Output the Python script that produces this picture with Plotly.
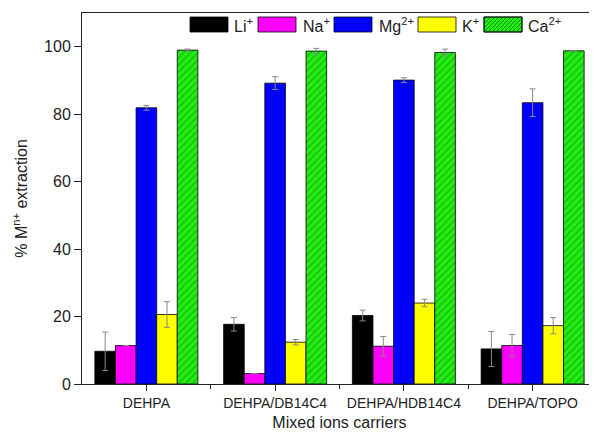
import plotly.graph_objects as go

carriers = ["DEHPA", "DEHPA/DB14C4", "DEHPA/HDB14C4", "DEHPA/TOPO"]
ions = ["Li<sup>+</sup>", "Na<sup>+</sup>", "Mg<sup>2+</sup>", "K<sup>+</sup>", "Ca<sup>2+</sup>"]

li = [9.7, 17.7, 20.3, 10.4]
li_err = [5.7, 2.0, 1.6, 5.2]
na = [11.4, 3.1, 11.2, 11.4]
na_err = [0.0, 0.0, 2.9, 3.3]
mg = [81.9, 89.2, 90.1, 83.4]
mg_err = [0.7, 1.9, 0.7, 4.1]
k = [20.6, 12.4, 24.0, 17.3]
k_err = [3.8, 0.8, 1.1, 2.4]
ca = [99.0, 98.7, 98.3, 98.8]
ca_err = [0.3, 0.8, 1.0, 0.0]

series = [li, na, mg, k, ca]
errors = [li_err, na_err, mg_err, k_err, ca_err]
colors = ["#000000", "#FF00FF", "#0000FF", "#FFFF00", "#22EE11"]
hatch_color = "#118811"

xpos = list(range(len(carriers)))

OFF = 8  # default page body margin
W, H = 597 - OFF, 435 - OFF
ML, MR, MT, MB = 82 - OFF, 0, 13 - OFF, 51
PW, PH = W - ML - MR, H - MT - MB

fig = go.Figure()
for name, vals, errs, col in zip(ions, series, errors, colors):
    marker = dict(color=col, line=dict(color="#000000", width=0.8))
    if name.startswith("Ca"):
        marker["pattern"] = dict(shape="/", fgcolor=hatch_color, bgcolor=col, size=5, solidity=0.3)
    fig.add_trace(go.Bar(
        x=xpos, y=vals, name=name, marker=marker, showlegend=False,
        error_y=dict(type="data", array=errs, visible=True, color="#888888", thickness=1, width=3),
    ))

# custom legend (large swatches like the original); positions in window pixels
def px2paper(px, py):
    return (px - OFF - ML) / PW, (H + OFF - MB - py) / PH

leg_swatch_x = [190, 258, 334, 418, 484]
leg_text_x = [232, 301, 377, 460, 526]
sw_w, y0p, y1p = 38, 17, 32
shapes = []
annotations = []
for i, (name, col) in enumerate(zip(ions, colors)):
    xa, ya = px2paper(leg_swatch_x[i], y1p)
    xb, yb = px2paper(leg_swatch_x[i] + sw_w, y0p)
    shapes.append(dict(type="rect", xref="paper", yref="paper", x0=xa, y0=ya, x1=xb, y1=yb,
                       fillcolor=col, line=dict(color="#000000", width=0.8), layer="above"))
    if name.startswith("Ca"):
        x0, x1 = leg_swatch_x[i], leg_swatch_x[i] + sw_w
        c = x0 + y0p + 3
        while c < x1 + y1p:
            xs = max(x0, c - y1p)
            xe = min(x1, c - y0p)
            if xe > xs:
                pa = px2paper(xs, c - xs)
                pb = px2paper(xe, c - xe)
                shapes.append(dict(type="line", xref="paper", yref="paper",
                                   x0=pa[0], y0=pa[1], x1=pb[0], y1=pb[1],
                                   line=dict(color=hatch_color, width=1), layer="above"))
            c += 4
        shapes.append(dict(type="rect", xref="paper", yref="paper", x0=xa, y0=ya, x1=xb, y1=yb,
                           line=dict(color="#000000", width=0.8), layer="above"))
    tx, ty = px2paper(leg_text_x[i], (y0p + y1p) / 2)
    annotations.append(dict(text=name, xref="paper", yref="paper", x=tx, y=ty,
                            xanchor="left", yanchor="middle", showarrow=False,
                            font=dict(size=16, color="#222222")))

fig.update_layout(
    width=W, height=H,
    margin=dict(l=ML, r=MR, t=MT, b=MB),
    paper_bgcolor="white", plot_bgcolor="white",
    barmode="group", bargap=0.2, bargroupgap=0,
    font=dict(family="Liberation Sans, Arial, sans-serif", color="#222222"),
    shapes=shapes, annotations=annotations,
)
fig.update_xaxes(
    range=[-0.5, 3.5], tickmode="array", tickvals=xpos, ticktext=carriers,
    automargin=False,
    showline=True, linecolor="#222222", linewidth=1, mirror=True,
    ticks="outside", ticklen=6, tickcolor="#222222", showgrid=False, zeroline=False,
    tickfont=dict(size=14),
    minor=dict(tickmode="array", tickvals=[0.5, 1.5, 2.5], ticks="outside", ticklen=4, tickcolor="#222222"),
    title=dict(text="Mixed ions carriers", font=dict(size=16), standoff=7),
)
fig.update_yaxes(
    range=[0, 110], tickvals=[0, 20, 40, 60, 80, 100],
    automargin=False,
    showline=True, linecolor="#222222", linewidth=1, mirror=False,
    ticks="outside", ticklen=7, tickcolor="#222222", showgrid=False, zeroline=False,
    tickfont=dict(size=16),
    title=dict(text="% M<sup>n+</sup> extraction", font=dict(size=16), standoff=12),
)

fig.write_html("out.html")
